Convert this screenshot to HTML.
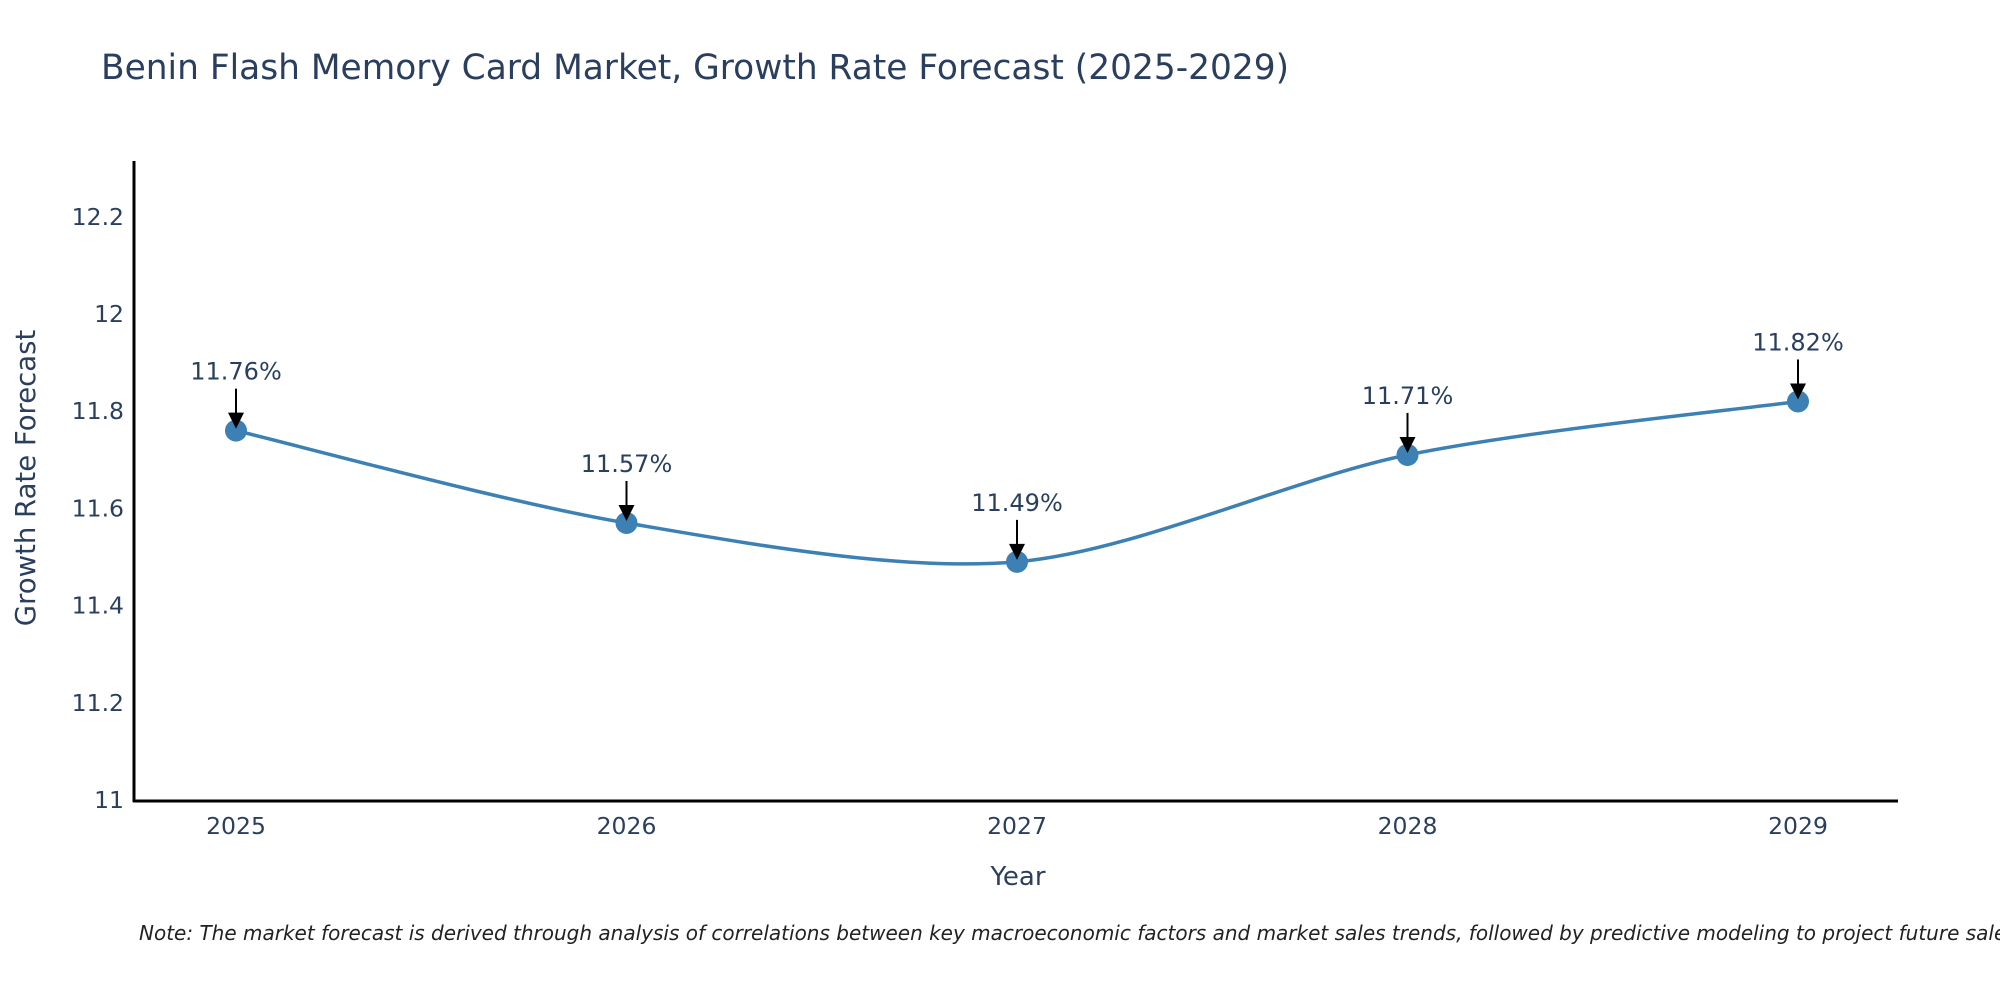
<!DOCTYPE html>
<html><head><meta charset="utf-8"><style>
html,body{margin:0;padding:0;background:#fff;}
svg{display:block;font-family:"DejaVu Sans","Liberation Sans",sans-serif;}
</style></head><body>
<svg id="chart" width="2000" height="1000" viewBox="0 0 2000 1000">
<text x="101" y="79" font-size="34.4" fill="#2a3f5f">Benin Flash Memory Card Market, Growth Rate Forecast (2025-2029)</text>
<g id="yticks"></g>
<g id="xticks"></g>
<path id="line" fill="none" stroke="#3d80b3" stroke-width="3.5"/>
<g id="points"></g>
<g id="annots"></g>
<line x1="134" y1="161" x2="134" y2="802" stroke="#000" stroke-width="3"/>
<line x1="133" y1="801" x2="1898" y2="801" stroke="#000" stroke-width="3"/>
<text x="1018" y="885" font-size="26" fill="#2a3f5f" text-anchor="middle">Year</text>
<text transform="translate(35,478) rotate(-90)" font-size="27.5" fill="#2a3f5f" text-anchor="middle">Growth Rate Forecast</text>
<text x="139" y="940" font-size="20" font-style="italic" fill="#222">Note: The market forecast is derived through analysis of correlations between key macroeconomic factors and market sales trends, followed by predictive modeling to project future sales.</text>
</svg>
<script>
const years=[2025,2026,2027,2028,2029];
const values=[11.76,11.57,11.49,11.71,11.82];
const labels=["11.76%","11.57%","11.49%","11.71%","11.82%"];
const yTicks=[11,11.2,11.4,11.6,11.8,12,12.2];
const NS="http://www.w3.org/2000/svg";
function xs(y){return 236+(y-2025)*(1798-236)/4;}
function ys(v){return 800-(v-11)*486;}
function mk(t,a,p){const e=document.createElementNS(NS,t);for(const k in a)e.setAttribute(k,a[k]);p.appendChild(e);return e;}
const yg=document.getElementById('yticks');
yTicks.forEach(v=>{const t=mk('text',{x:124,y:ys(v)+8,'font-size':23.5,fill:'#2a3f5f','text-anchor':'end'},yg);


t.textContent=String(v);});
const xg=document.getElementById('xticks');
years.forEach(y=>{const t=mk('text',{x:xs(y),y:834,'font-size':23.5,fill:'#2a3f5f','text-anchor':'middle'},xg);


t.textContent=String(y);});
const P=years.map((y,i)=>[xs(y),ys(values[i])]);
let d='M'+P[0][0]+','+P[0][1];
const k=0.15;
for(let i=0;i<P.length-1;i++){const p0=P[Math.max(0,i-1)],p1=P[i],p2=P[i+1],p3=P[Math.min(P.length-1,i+2)];
const c1=[p1[0]+(p2[0]-p0[0])*k,p1[1]+(p2[1]-p0[1])*k],c2=[p2[0]-(p3[0]-p1[0])*k,p2[1]-(p3[1]-p1[1])*k];
d+=' C'+c1+' '+c2+' '+p2;}
document.getElementById('line').setAttribute('d',d);
const pg=document.getElementById('points'),ag=document.getElementById('annots');
P.forEach((p,i)=>{const c=mk('circle',{cx:p[0],cy:p[1],r:11,fill:'#3d80b3'},pg);


const l=mk('line',{x1:p[0],y1:p[1]-42,x2:p[0],y2:p[1]-14,stroke:'#000','stroke-width':2},ag);


const h=mk('polygon',{points:(p[0]-8)+','+(p[1]-18)+' '+(p[0]+8)+','+(p[1]-18)+' '+p[0]+','+(p[1]-2),fill:'#000'},ag);


const t=mk('text',{x:p[0],y:p[1]-51,'font-size':24,fill:'#2a3f5f','text-anchor':'middle'},ag);


t.textContent=labels[i];});
</script>
</body></html>
